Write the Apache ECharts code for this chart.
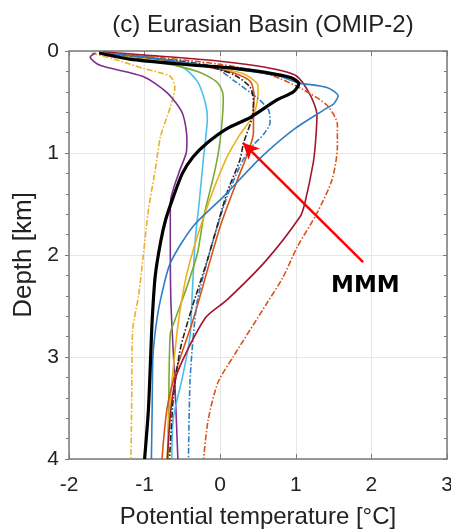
<!DOCTYPE html>
<html>
<head>
<meta charset="utf-8">
<script src="https://cdn.jsdelivr.net/npm/echarts@6/dist/echarts.min.js"></script>
<style>
  html, body { margin: 0; padding: 0; background: #fff; }
  #chart { width: 451px; height: 532px; }
</style>
</head>
<body>
<div id="chart"></div>
<script>
// profiles: [potential temperature (degC), depth (km)]
let xTicks = [-2, -1, 0, 1, 2, 3]
let yTicks = [0, 1, 2, 3, 4]

let blueSolid = [[-1.55, 0.02], [-1.0, 0.06], [-0.3, 0.13], [0.4, 0.2], [0.8, 0.25], [1.02, 0.31], [1.42, 0.36], [1.56, 0.44], [1.5, 0.52], [1.41, 0.56], [0.97, 0.77], [0.53, 1.05], [0.04, 1.43], [-0.36, 1.72], [-0.66, 2.08], [-0.79, 2.44], [-0.85, 2.7], [-0.89, 3.0], [-0.9, 3.5], [-0.91, 4.0]]
let maroonSolid = [[-1.55, 0.01], [-1.0, 0.04], [0.0, 0.1], [0.6, 0.16], [1.0, 0.24], [1.19, 0.43], [1.28, 0.63], [1.26, 0.9], [1.23, 1.1], [1.12, 1.49], [1.06, 1.62], [0.6, 2.06], [0.09, 2.44], [-0.2, 2.62], [-0.57, 3.16], [-0.65, 3.5], [-0.7, 4.0]]
let orangeDash = [[-1.55, 0.02], [-1.0, 0.05], [0.0, 0.13], [0.5, 0.2], [0.79, 0.27], [1.1, 0.38], [1.41, 0.53], [1.55, 0.72], [1.55, 0.94], [1.48, 1.26], [1.28, 1.59], [1.02, 1.92], [0.83, 2.22], [0.62, 2.47], [0.17, 3.0], [-0.03, 3.25], [-0.16, 3.62], [-0.22, 4.0]]
let purpleSolid = [[-1.65, 0.02], [-1.72, 0.06], [-1.59, 0.14], [-1.02, 0.25], [-0.7, 0.41], [-0.5, 0.61], [-0.44, 0.87], [-0.45, 1.0], [-0.55, 1.2], [-0.66, 1.49], [-0.66, 2.0], [-0.65, 2.5], [-0.6, 3.25], [-0.56, 4.0]]
let yellowDash = [[-1.7, 0.02], [-1.4, 0.08], [-1.02, 0.17], [-0.66, 0.25], [-0.6, 0.36], [-0.66, 0.55], [-0.79, 0.84], [-0.86, 1.17], [-0.95, 1.56], [-1.02, 2.02], [-1.08, 2.4], [-1.16, 2.75], [-1.17, 3.4], [-1.18, 4.0]]
let cyanSolid = [[-1.6, 0.02], [-1.0, 0.07], [-0.5, 0.16], [-0.3, 0.3], [-0.2, 0.5], [-0.17, 0.65], [-0.22, 1.04], [-0.28, 1.5], [-0.33, 1.85], [-0.37, 2.38], [-0.4, 2.8], [-0.5, 3.2], [-0.62, 3.6], [-0.64, 4.0]]
let greenSolid = [[-1.6, 0.02], [-1.0, 0.08], [-0.3, 0.2], [-0.05, 0.3], [0.03, 0.4], [0.04, 0.48], [0.0, 0.87], [-0.07, 1.17], [-0.22, 1.63], [-0.3, 1.98], [-0.44, 2.31], [-0.6, 2.64], [-0.66, 2.77], [-0.68, 3.4], [-0.69, 4.0]]
let orangeSolid = [[-1.6, 0.02], [-1.0, 0.06], [-0.3, 0.14], [0.2, 0.22], [0.4, 0.3], [0.45, 0.45], [0.44, 0.56], [0.44, 0.8], [0.33, 1.07], [0.26, 1.2], [0.0, 1.72], [-0.36, 2.64], [-0.57, 3.1], [-0.7, 3.49], [-0.77, 4.0]]
let yellowSolid = [[-1.6, 0.02], [-1.0, 0.07], [-0.2, 0.15], [0.3, 0.22], [0.5, 0.34], [0.5, 0.43], [0.44, 0.63], [0.26, 0.82], [0.07, 1.07], [-0.22, 1.63], [-0.44, 2.18], [-0.55, 2.64], [-0.62, 3.1], [-0.68, 3.6], [-0.7, 4.0]]
let blackDash = [[-1.6, 0.02], [-1.0, 0.06], [-0.2, 0.14], [0.2, 0.24], [0.4, 0.36], [0.44, 0.51], [0.42, 0.66], [0.31, 0.9], [0.26, 1.07], [0.09, 1.39], [-0.17, 2.05], [-0.37, 2.51], [-0.53, 2.93], [-0.62, 3.4], [-0.67, 4.0]]
let blueDash = [[-1.6, 0.02], [-1.0, 0.06], [-0.1, 0.15], [0.2, 0.3], [0.49, 0.46], [0.64, 0.58], [0.66, 0.7], [0.57, 0.82], [0.44, 0.92], [0.3, 1.07], [0.09, 1.43], [-0.13, 1.95], [-0.3, 2.44], [-0.36, 2.83], [-0.4, 3.25], [-0.42, 4.0]]
let mmm = [[-1.6, 0.02], [-1.2, 0.08], [-0.5, 0.13], [0.2, 0.17], [0.6, 0.21], [0.93, 0.26], [1.04, 0.32], [0.97, 0.4], [0.75, 0.48], [0.4, 0.65], [0.09, 0.76], [-0.17, 0.9], [-0.36, 1.04], [-0.5, 1.2], [-0.62, 1.43], [-0.72, 1.65], [-0.79, 1.88], [-0.86, 2.21], [-0.9, 2.64], [-0.92, 3.0], [-0.95, 3.52], [-1.0, 4.0]]

// annotation arrow: tail -> tip, and label position
let arrowTail = [1.89, 2.07]
let arrowTip = [0.3, 0.9]
let labelPos = [1.92, 2.3]

let dashDot = [6, 2, 1.5, 2]
let font = 'Liberation Sans'

function profile(name, data, color, dashed) {
    return {
        name: name,
        type: 'line',
        data: data,
        smooth: 0.25,
        symbol: 'none',
        lineStyle: { color: color, width: 1.6, type: dashed ? dashDot : 'solid' }
    }
}

let chart = echarts.init(document.getElementById('chart'))

let axisColor = '#7a7a7a'
let option = {
    animation: false,
    title: {
        text: '(c) Eurasian Basin (OMIP-2)',
        left: 258,
        top: 8,
        textAlign: 'center',
        textStyle: { fontFamily: font, fontSize: 24, fontWeight: 'normal', color: '#222' }
    },
    grid: { left: 69, right: 4, top: 51, bottom: 73, outerBoundsMode: 'none' },
    xAxis: [{
        type: 'value',
        min: xTicks[0],
        max: xTicks[xTicks.length - 1],
        interval: 1,
        name: 'Potential temperature [°C]',
        nameLocation: 'middle',
        nameGap: 46,
        nameTextStyle: { fontFamily: font, fontSize: 24, color: '#222' },
        axisLine: { onZero: false, lineStyle: { color: axisColor, width: 1.5 } },
        axisTick: { inside: true, length: 5, lineStyle: { color: axisColor } },
        axisLabel: { fontFamily: font, fontSize: 21, color: '#222', margin: 16 },
        splitLine: { show: true, lineStyle: { color: '#e6e6e6' } }
    }, {
        type: 'value',
        position: 'top',
        min: xTicks[0],
        max: xTicks[xTicks.length - 1],
        interval: 1,
        axisLine: { onZero: false, lineStyle: { color: axisColor, width: 1.5 } },
        axisTick: { inside: true, length: 5, lineStyle: { color: axisColor } },
        axisLabel: { show: false },
        splitLine: { show: false }
    }],
    yAxis: [{
        type: 'value',
        inverse: true,
        min: yTicks[0],
        max: yTicks[yTicks.length - 1],
        interval: 1,
        name: 'Depth [km]',
        nameLocation: 'middle',
        nameGap: 30,
        nameTextStyle: { fontFamily: font, fontSize: 26, color: '#222' },
        axisLine: { onZero: false, lineStyle: { color: axisColor, width: 1.5 } },
        axisTick: { inside: false, length: 4, lineStyle: { color: axisColor } },
        minorTick: { show: true, splitNumber: 5, length: 3, lineStyle: { color: axisColor } },
        axisLabel: { fontFamily: font, fontSize: 21, color: '#222', margin: 10 },
        splitLine: { show: true, lineStyle: { color: '#e6e6e6' } }
    }, {
        type: 'value',
        position: 'right',
        inverse: true,
        min: yTicks[0],
        max: yTicks[yTicks.length - 1],
        interval: 1,
        axisLine: { onZero: false, lineStyle: { color: axisColor, width: 1.5 } },
        axisTick: { inside: true, length: 4, lineStyle: { color: axisColor } },
        minorTick: { show: true, splitNumber: 5, length: 3, lineStyle: { color: axisColor } },
        axisLabel: { show: false },
        splitLine: { show: false }
    }],
    series: [
        profile('yellowDash', yellowDash, '#EDB120', true),
        profile('purple', purpleSolid, '#7E2F8E', false),
        profile('cyan', cyanSolid, '#4DBEEE', false),
        profile('green', greenSolid, '#77AC30', false),
        profile('yellow', yellowSolid, '#EDB120', false),
        profile('orange', orangeSolid, '#D95319', false),
        profile('blueDash', blueDash, '#2f7ec2', true),
        profile('blackDash', blackDash, '#222222', true),
        profile('maroon', maroonSolid, '#A2142F', false),
        profile('orangeDash', orangeDash, '#D95319', true),
        profile('blue', blueSolid, '#2f7ec2', false),
        {
            name: 'MMM',
            type: 'line',
            data: mmm,
            smooth: 0.25,
            symbol: 'none',
            z: 5,
            lineStyle: { color: '#000', width: 3.2 }
        },
        {
            // arrow and label
            type: 'line',
            data: [],
            z: 6,
            markLine: {
                silent: true,
                symbol: ['none', 'arrow'],
                symbolSize: [12, 16],
                label: { show: false },
                lineStyle: { color: '#ff0000', width: 2.5, type: 'solid' },
                data: [[{ coord: arrowTail }, { coord: arrowTip }]]
            },
            markPoint: {
                silent: true,
                symbol: 'rect',
                symbolSize: 1,
                itemStyle: { color: 'transparent' },
                label: {
                    show: true,
                    formatter: 'MMM',
                    fontFamily: 'DejaVu Sans',
                    fontWeight: 'bold',
                    fontSize: 23,
                    color: '#000'
                },
                data: [{ coord: labelPos }]
            }
        }
    ]
}
chart.setOption(option)
</script>
</body>
</html>
